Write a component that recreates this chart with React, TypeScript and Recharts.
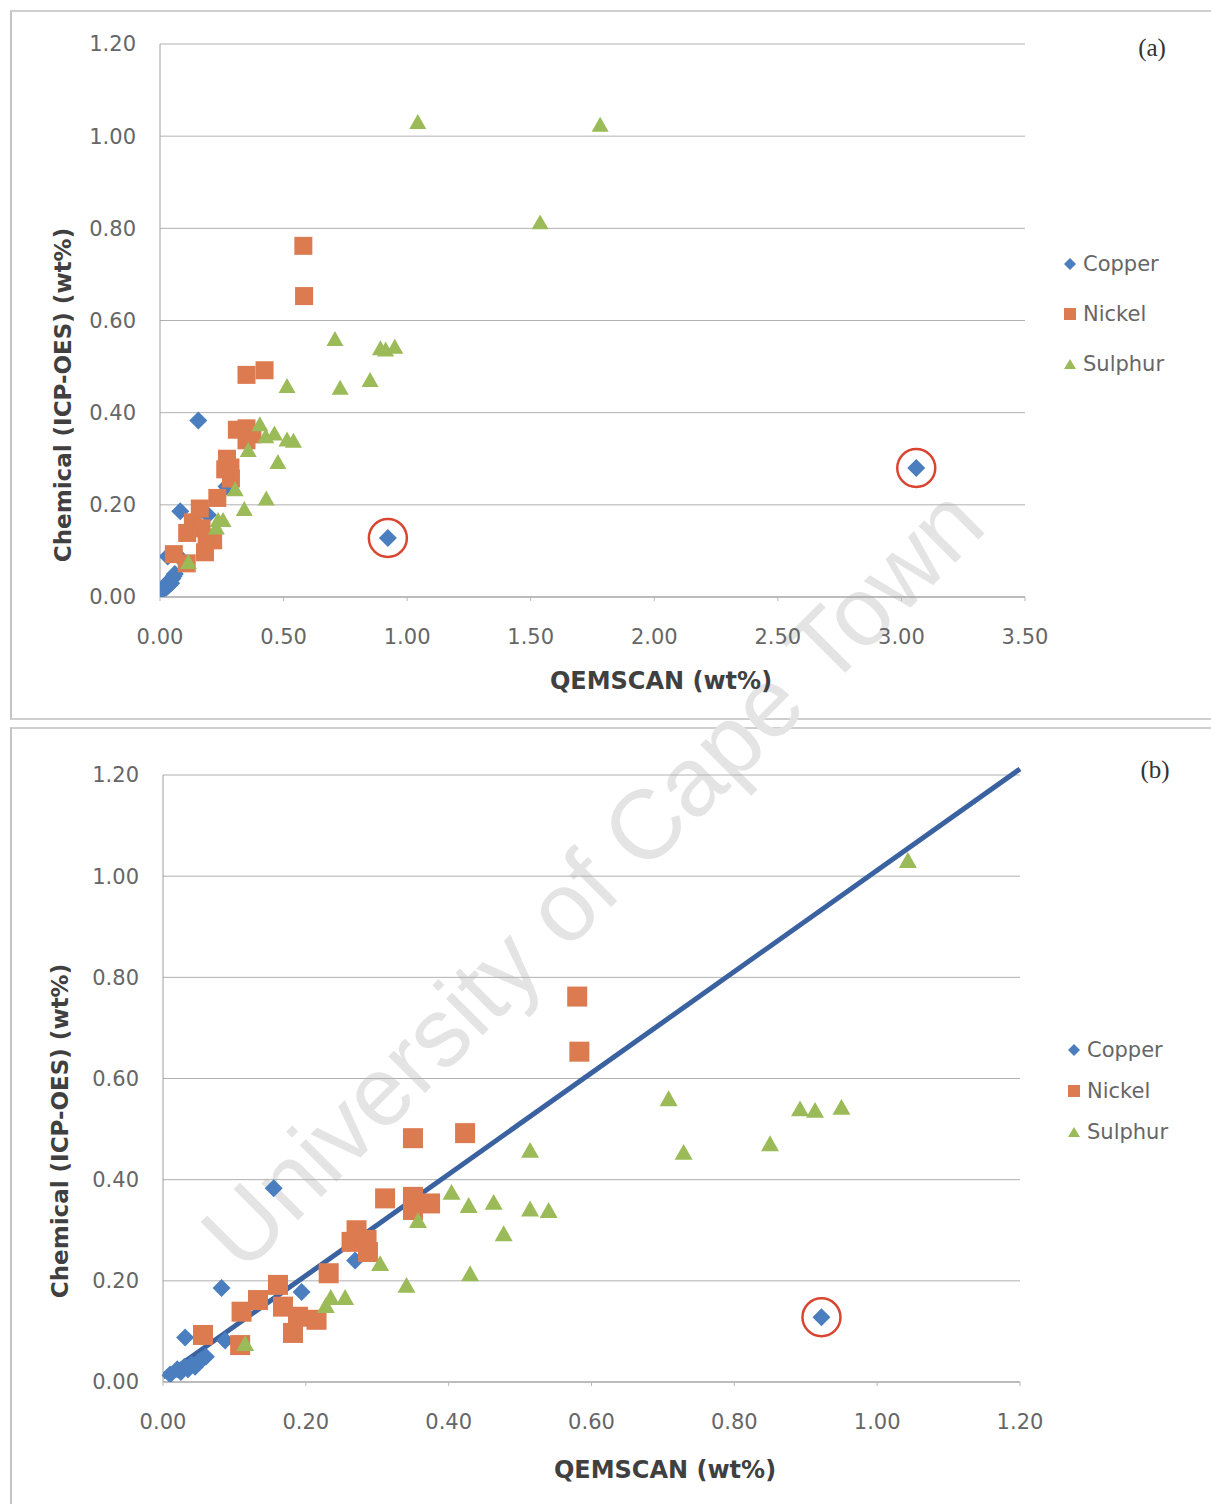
import React from 'react';
import { ScatterChart, Scatter, XAxis, YAxis, CartesianGrid, ReferenceLine, ReferenceDot, Label } from 'recharts';

// ---------------- data ----------------
const seriesNames = ['Copper', 'Nickel', 'Sulphur'];

const copperX = [0.01, 0.02, 0.025, 0.03, 0.035, 0.04, 0.045, 0.05, 0.055, 0.06, 0.031, 0.087, 0.082, 0.155, 0.194, 0.269, 0.922, 3.06];
const copperY = [0.015, 0.025, 0.02, 0.03, 0.025, 0.035, 0.03, 0.04, 0.045, 0.05, 0.088, 0.082, 0.186, 0.383, 0.178, 0.24, 0.128, 0.28];

const nickelX = [0.056, 0.108, 0.11, 0.133, 0.161, 0.168, 0.182, 0.189, 0.215, 0.232, 0.264, 0.271, 0.285, 0.287, 0.311, 0.35, 0.35, 0.374, 0.35, 0.423, 0.58, 0.583];
const nickelY = [0.093, 0.073, 0.139, 0.162, 0.192, 0.149, 0.097, 0.129, 0.123, 0.215, 0.277, 0.3, 0.281, 0.257, 0.363, 0.366, 0.34, 0.353, 0.482, 0.492, 0.762, 0.653];

const sulphurX = [0.115, 0.228, 0.235, 0.255, 0.304, 0.341, 0.357, 0.404, 0.428, 0.43, 0.463, 0.477, 0.514, 0.514, 0.54, 0.708, 0.729, 0.85, 0.892, 0.913, 0.95, 1.043, 1.538, 1.781];
const sulphurY = [0.077, 0.152, 0.168, 0.168, 0.235, 0.192, 0.32, 0.376, 0.35, 0.215, 0.356, 0.294, 0.459, 0.343, 0.34, 0.561, 0.455, 0.472, 0.541, 0.538, 0.544, 1.032, 0.814, 1.026];

// circled outliers (copper)
const outlierX = [0.922, 3.06];
const outlierY = [0.128, 0.28];

// trend line in panel (b)
const trendX = [0, 1.2];
const trendY = [0.01, 1.212];

const yTicks = [0, 0.2, 0.4, 0.6, 0.8, 1.0, 1.2];
const xTicksA = [0, 0.5, 1.0, 1.5, 2.0, 2.5, 3.0, 3.5];
const xTicksB = [0, 0.2, 0.4, 0.6, 0.8, 1.0, 1.2];

const xTitle = 'QEMSCAN (wt%)';
const yTitle = 'Chemical (ICP-OES) (wt%)';

// ---------------- styles ----------------
const COLORS = { Copper: '#4a7ebf', Nickel: '#dc7a50', Sulphur: '#9bbb59' };
const FONT = '"DejaVu Sans", sans-serif';
const TICK_COLOR = '#666666';
const TITLE_COLOR = '#404040';
const GRID = '#b0b0b0';

const toPts = (xs: number[], ys: number[], xMax: number) =>
  xs.map((x, i) => ({ x, y: ys[i] })).filter((p) => p.x <= xMax);

const diamondShape = (d: number, color: string) => (p: any) => {
  const { cx, cy } = p;
  if (cx == null || cy == null) return <g />;
  const h = d / 2;
  return <path d={`M${cx},${cy - h}L${cx + h},${cy}L${cx},${cy + h}L${cx - h},${cy}Z`} fill={color} />;
};
const squareShape = (s: number, color: string) => (p: any) => {
  const { cx, cy } = p;
  if (cx == null || cy == null) return <g />;
  return <rect x={cx - s / 2} y={cy - s / 2} width={s} height={s} fill={color} />;
};
const triangleShape = (w: number, color: string) => (p: any) => {
  const { cx, cy } = p;
  if (cx == null || cy == null) return <g />;
  const h = w * 0.88;
  return <path d={`M${cx},${cy - h / 2}L${cx + w / 2},${cy + h / 2}L${cx - w / 2},${cy + h / 2}Z`} fill={color} />;
};

type Cfg = {
  top: number;
  height: number;
  xMax: number;
  xTicks: number[];
  plot: { left: number; right: number; top: number; bottom: number };
  sizes: { diamond: number; square: number; tri: number };
  xTitlePos: { x: number; y: number };
  yTitlePos: { x: number; y: number };
  tag: string;
  tagPos: { x: number; y: number };
  legend: { x: number; y: number; gap: number };
  trend: boolean;
};

const W = 1211;

const panelA: Cfg = {
  top: 0,
  height: 715,
  xMax: 3.5,
  xTicks: xTicksA,
  plot: { left: 160, right: 1025, top: 44, bottom: 597 },
  sizes: { diamond: 18, square: 18, tri: 17 },
  xTitlePos: { x: 661, y: 681 },
  yTitlePos: { x: 63, y: 395 },
  tag: '(a)',
  tagPos: { x: 1152, y: 48 },
  legend: { x: 1063, y: 264, gap: 50 },
  trend: false,
};

const panelB: Cfg = {
  top: 720,
  height: 784,
  xMax: 1.2,
  xTicks: xTicksB,
  plot: { left: 163, right: 1020, top: 55, bottom: 662 },
  sizes: { diamond: 18, square: 20, tri: 18 },
  xTitlePos: { x: 665, y: 750 },
  yTitlePos: { x: 60, y: 411 },
  tag: '(b)',
  tagPos: { x: 1155, y: 50 },
  legend: { x: 1067, y: 330, gap: 41 },
  trend: true,
};

const LegendIcon = ({ name }: { name: string }) => {
  const c = (COLORS as any)[name];
  return (
    <svg width={14} height={14} style={{ display: 'block' }}>
      {name === 'Copper' && <path d="M7,1L13,7L7,13L1,7Z" fill={c} />}
      {name === 'Nickel' && <rect x={1} y={1} width={12} height={12} fill={c} />}
      {name === 'Sulphur' && <path d="M7,2L13,12L1,12Z" fill={c} />}
    </svg>
  );
};

const Panel = ({ cfg }: { cfg: Cfg }) => {
  const { plot } = cfg;
  const xAxisH = 60;
  const yAxisW = 80;
  const margin = {
    top: plot.top,
    right: W - plot.right,
    bottom: cfg.height - plot.bottom - xAxisH,
    left: plot.left - yAxisW,
  };
  const cu = toPts(copperX, copperY, cfg.xMax);
  const ni = toPts(nickelX, nickelY, cfg.xMax);
  const su = toPts(sulphurX, sulphurY, cfg.xMax);
  const out = toPts(outlierX, outlierY, cfg.xMax);
  const fmt = (v: number) => v.toFixed(2);

  return (
    <div style={{ position: 'absolute', left: 0, top: cfg.top, width: W, height: cfg.height }}>
      <ScatterChart width={W} height={cfg.height} margin={margin}>
        <CartesianGrid vertical={false} stroke={GRID} strokeWidth={1} />
        <XAxis
          type="number"
          dataKey="x"
          domain={[0, cfg.xMax]}
          ticks={cfg.xTicks}
          tickFormatter={fmt}
          height={xAxisH}
          axisLine={{ stroke: '#a0a0a0' }}
          tickLine={{ stroke: '#b8b8b8' }}
          tickSize={4}
          tickMargin={28}
          tick={{ fill: TICK_COLOR, fontSize: 21, fontFamily: FONT }}
          allowDataOverflow
          interval={0}
        >
          <Label
            content={() => (
              <text
                x={cfg.xTitlePos.x}
                y={cfg.xTitlePos.y}
                textAnchor="middle"
                dominantBaseline="central"
                fill={TITLE_COLOR}
                fontSize={24}
                fontWeight="bold"
                fontFamily={FONT}
              >
                {xTitle}
              </text>
            )}
          />
        </XAxis>
        <YAxis
          type="number"
          dataKey="y"
          domain={[0, 1.2]}
          ticks={yTicks}
          tickFormatter={fmt}
          width={yAxisW}
          axisLine={{ stroke: '#a0a0a0' }}
          tickLine={false}
          tickSize={0}
          tickMargin={24}
          tick={{ fill: TICK_COLOR, fontSize: 21, fontFamily: FONT }}
          allowDataOverflow
          interval={0}
        >
          <Label
            content={() => (
              <text
                x={cfg.yTitlePos.x}
                y={cfg.yTitlePos.y}
                transform={`rotate(-90, ${cfg.yTitlePos.x}, ${cfg.yTitlePos.y})`}
                textAnchor="middle"
                dominantBaseline="central"
                fill={TITLE_COLOR}
                fontSize={23}
                fontWeight="bold"
                fontFamily={FONT}
              >
                {yTitle}
              </text>
            )}
          />
        </YAxis>
        <Scatter
          name="Copper"
          data={cu}
          fill={COLORS.Copper}
          shape={diamondShape(cfg.sizes.diamond, COLORS.Copper)}
          isAnimationActive={false}
        />
        <Scatter
          name="Nickel"
          data={ni}
          fill={COLORS.Nickel}
          shape={squareShape(cfg.sizes.square, COLORS.Nickel)}
          isAnimationActive={false}
        />
        <Scatter
          name="Sulphur"
          data={su}
          fill={COLORS.Sulphur}
          shape={triangleShape(cfg.sizes.tri, COLORS.Sulphur)}
          isAnimationActive={false}
        />
        {cfg.trend && (
          <ReferenceLine
            segment={[
              { x: trendX[0], y: trendY[0] },
              { x: trendX[1], y: trendY[1] },
            ]}
            stroke="#3b62a0"
            strokeWidth={5}
            ifOverflow="visible"
          />
        )}
        {out.map((p, i) => (
          <ReferenceDot
            key={i}
            x={p.x}
            y={p.y}
            r={19}
            fill="none"
            stroke="#d9452f"
            strokeWidth={2.5}
            ifOverflow="visible"
          />
        ))}
      </ScatterChart>

      {/* legend */}
      {seriesNames.map((n, i) => (
        <div
          key={n}
          style={{
            position: 'absolute',
            left: cfg.legend.x,
            top: cfg.legend.y + i * cfg.legend.gap - 14,
            height: 28,
            display: 'flex',
            alignItems: 'center',
            gap: 6,
            fontFamily: FONT,
            fontSize: 21,
            color: TICK_COLOR,
            whiteSpace: 'nowrap',
          }}
        >
          <LegendIcon name={n} />
          <span>{n}</span>
        </div>
      ))}

      {/* panel tag */}
      <div
        style={{
          position: 'absolute',
          left: cfg.tagPos.x,
          top: cfg.tagPos.y,
          transform: 'translate(-50%, -50%)',
          fontFamily: '"Liberation Serif", serif',
          fontSize: 25,
          color: '#333',
        }}
      >
        {cfg.tag}
      </div>
    </div>
  );
};

export default function App() {
  return (
    <div
      style={{
        position: 'absolute',
        left: 0,
        top: 0,
        width: W,
        height: 1504,
        background: '#ffffff',
        overflow: 'hidden',
      }}
    >
      {/* scanned frames */}
      <div style={{ position: 'absolute', left: 10, top: 10, width: W - 10, height: 706, borderLeft: '2px solid #c4c4c4', borderTop: '2px solid #cfcfcf', borderBottom: '2px solid #cfcfcf' }} />
      <div style={{ position: 'absolute', left: 10, top: 727, width: W - 10, height: 777, borderLeft: '2px solid #c4c4c4', borderTop: '2px solid #cfcfcf' }} />

      {/* watermark */}
      <div
        style={{
          position: 'absolute',
          left: 592,
          top: 878,
          transform: 'translate(-50%, -50%) rotate(-45deg)',
          fontFamily: '"Liberation Sans", Arial, sans-serif',
          fontSize: 98,
          color: '#e4e4e4',
          whiteSpace: 'nowrap',
          lineHeight: 1,
        }}
      >
        University of Cape Town
      </div>

      <Panel cfg={panelA} />
      <Panel cfg={panelB} />
    </div>
  );
}
